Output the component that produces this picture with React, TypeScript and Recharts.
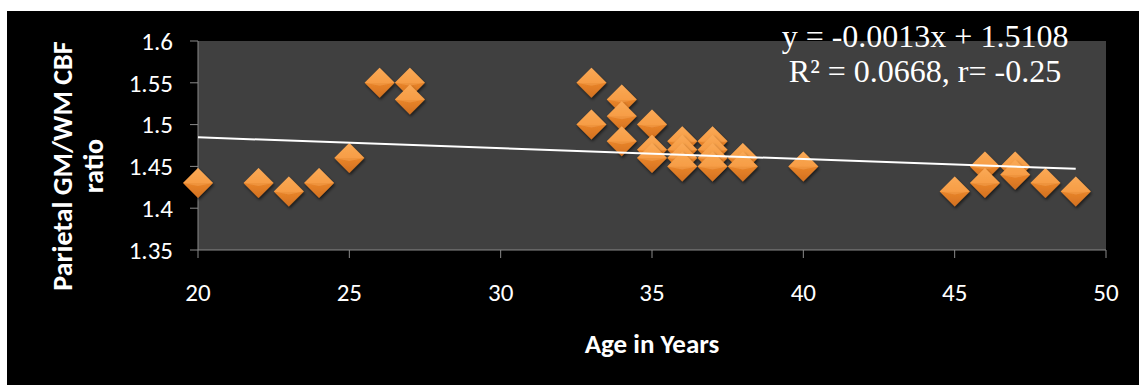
import {
  CartesianGrid,
  Scatter,
  ScatterChart,
  XAxis,
  YAxis,
} from "recharts";

const ages = [
  20, 22, 23, 24, 25, 26, 27, 27, 33, 33, 34, 34, 34, 35, 35, 35, 36, 36, 36,
  36, 37, 37, 37, 37, 38, 38, 40, 45, 46, 46, 47, 47, 48, 49,
];
const cbfRatios = [
  1.43, 1.43, 1.42, 1.43, 1.46, 1.55, 1.55, 1.53, 1.55, 1.5, 1.53, 1.51, 1.48,
  1.5, 1.47, 1.46, 1.48, 1.47, 1.46, 1.45, 1.48, 1.47, 1.46, 1.45, 1.46, 1.45,
  1.45, 1.42, 1.45, 1.43, 1.45, 1.44, 1.43, 1.42,
];

const xTicks = [20, 25, 30, 35, 40, 45, 50];
const yTicks = [1.35, 1.4, 1.45, 1.5, 1.55, 1.6];

// linear fit reported on the chart
const slope = -0.0013;
const intercept = 1.5108;
const fitRange = [20, 49];
const equationLines = ["y = -0.0013x + 1.5108", "R² = 0.0668, r= -0.25"];

const points = ages.map((age, i) => ({ age, ratio: cbfRatios[i] }));
const trend = fitRange.map((age) => ({ age, ratio: slope * age + intercept }));

const sans = "Carlito, Lato, sans-serif";
const serif = "'Liberation Serif', 'Times New Roman', serif";

function Diamond(props: any) {
  const { cx, cy } = props;
  if (cx == null || cy == null) return null;
  const r = 15;
  return (
    <g filter="url(#dropShadow)">
      <polygon
        points={`${cx},${cy - r} ${cx + r},${cy} ${cx},${cy + r} ${cx - r},${cy}`}
        fill="url(#diamondFill)"
      />
      <polygon
        points={`${cx - r},${cy} ${cx},${cy - r} ${cx + r},${cy} ${cx},${cy + 3}`}
        fill="#fbb163"
        opacity={0.35}
      />
    </g>
  );
}

// two-line rotated axis title, sits a little below the plot's middle
function YTitle() {
  const cy = 155;
  return (
    <g fill="#fff" fontFamily={sans} fontWeight="bold" fontSize={28}>
      <text
        x={55}
        y={cy}
        textAnchor="middle"
        dominantBaseline="central"
        transform={`rotate(-90, 55, ${cy})`}
      >
        Parietal GM/WM CBF
      </text>
      <text
        x={86}
        y={cy}
        textAnchor="middle"
        dominantBaseline="central"
        transform={`rotate(-90, 86, ${cy})`}
      >
        ratio
      </text>
    </g>
  );
}

function XTitle(props: any) {
  const { viewBox } = props;
  return (
    <text
      x={viewBox.x + viewBox.width / 2}
      y={342}
      textAnchor="middle"
      fill="#fff"
      fontFamily={sans}
      fontWeight="bold"
      fontSize={27}
    >
      Age in Years
    </text>
  );
}

export default function App() {
  return (
    <div
      style={{
        position: "absolute",
        left: 7,
        top: 11,
        width: 1132,
        height: 374,
        background: "#000",
      }}
    >
      <ScatterChart
        width={1132}
        height={374}
        margin={{ top: 30, right: 33, bottom: 105, left: 71 }}
      >
        <defs>
          <linearGradient id="diamondFill" x1="0" y1="0" x2="0" y2="1">
            <stop offset="0%" stopColor="#f9a550" />
            <stop offset="50%" stopColor="#f39235" />
            <stop offset="51%" stopColor="#e9852a" />
            <stop offset="100%" stopColor="#d27020" />
          </linearGradient>
          <filter id="dropShadow" x="-30%" y="-30%" width="160%" height="160%">
            <feDropShadow dx="1" dy="2" stdDeviation="1.5" floodColor="#000" floodOpacity="0.6" />
          </filter>
        </defs>
        <CartesianGrid
          fill="#404040"
          horizontal={false}
          vertical={false}
          stroke="none"
        />
        <XAxis
          type="number"
          dataKey="age"
          domain={[20, 50]}
          ticks={xTicks}
          height={30}
          stroke="#8a8a8a"
          tickSize={8}
          tickMargin={25}
          tick={{ fill: "#fff", fontSize: 25, fontFamily: sans }}
          label={<XTitle />}
        />
        <YAxis
          type="number"
          dataKey="ratio"
          domain={[1.35, 1.6]}
          ticks={yTicks}
          width={120}
          stroke="#8a8a8a"
          tickSize={8}
          tickMargin={17}
          tick={{ fill: "#fff", fontSize: 25, fontFamily: sans }}
          label={<YTitle />}
        />
        <Scatter
          data={points}
          shape={<Diamond />}
          isAnimationActive={false}
        />
        <Scatter
          data={trend}
          line={{ stroke: "#fff", strokeWidth: 2 }}
          shape={() => <g />}
          isAnimationActive={false}
        />
        <text x={918} y={36} textAnchor="middle" fill="#fff" fontFamily={serif} fontSize={32}>
          {equationLines[0]}
        </text>
        <text x={918} y={71} textAnchor="middle" fill="#fff" fontFamily={serif} fontSize={32}>
          {equationLines[1]}
        </text>
      </ScatterChart>
    </div>
  );
}
